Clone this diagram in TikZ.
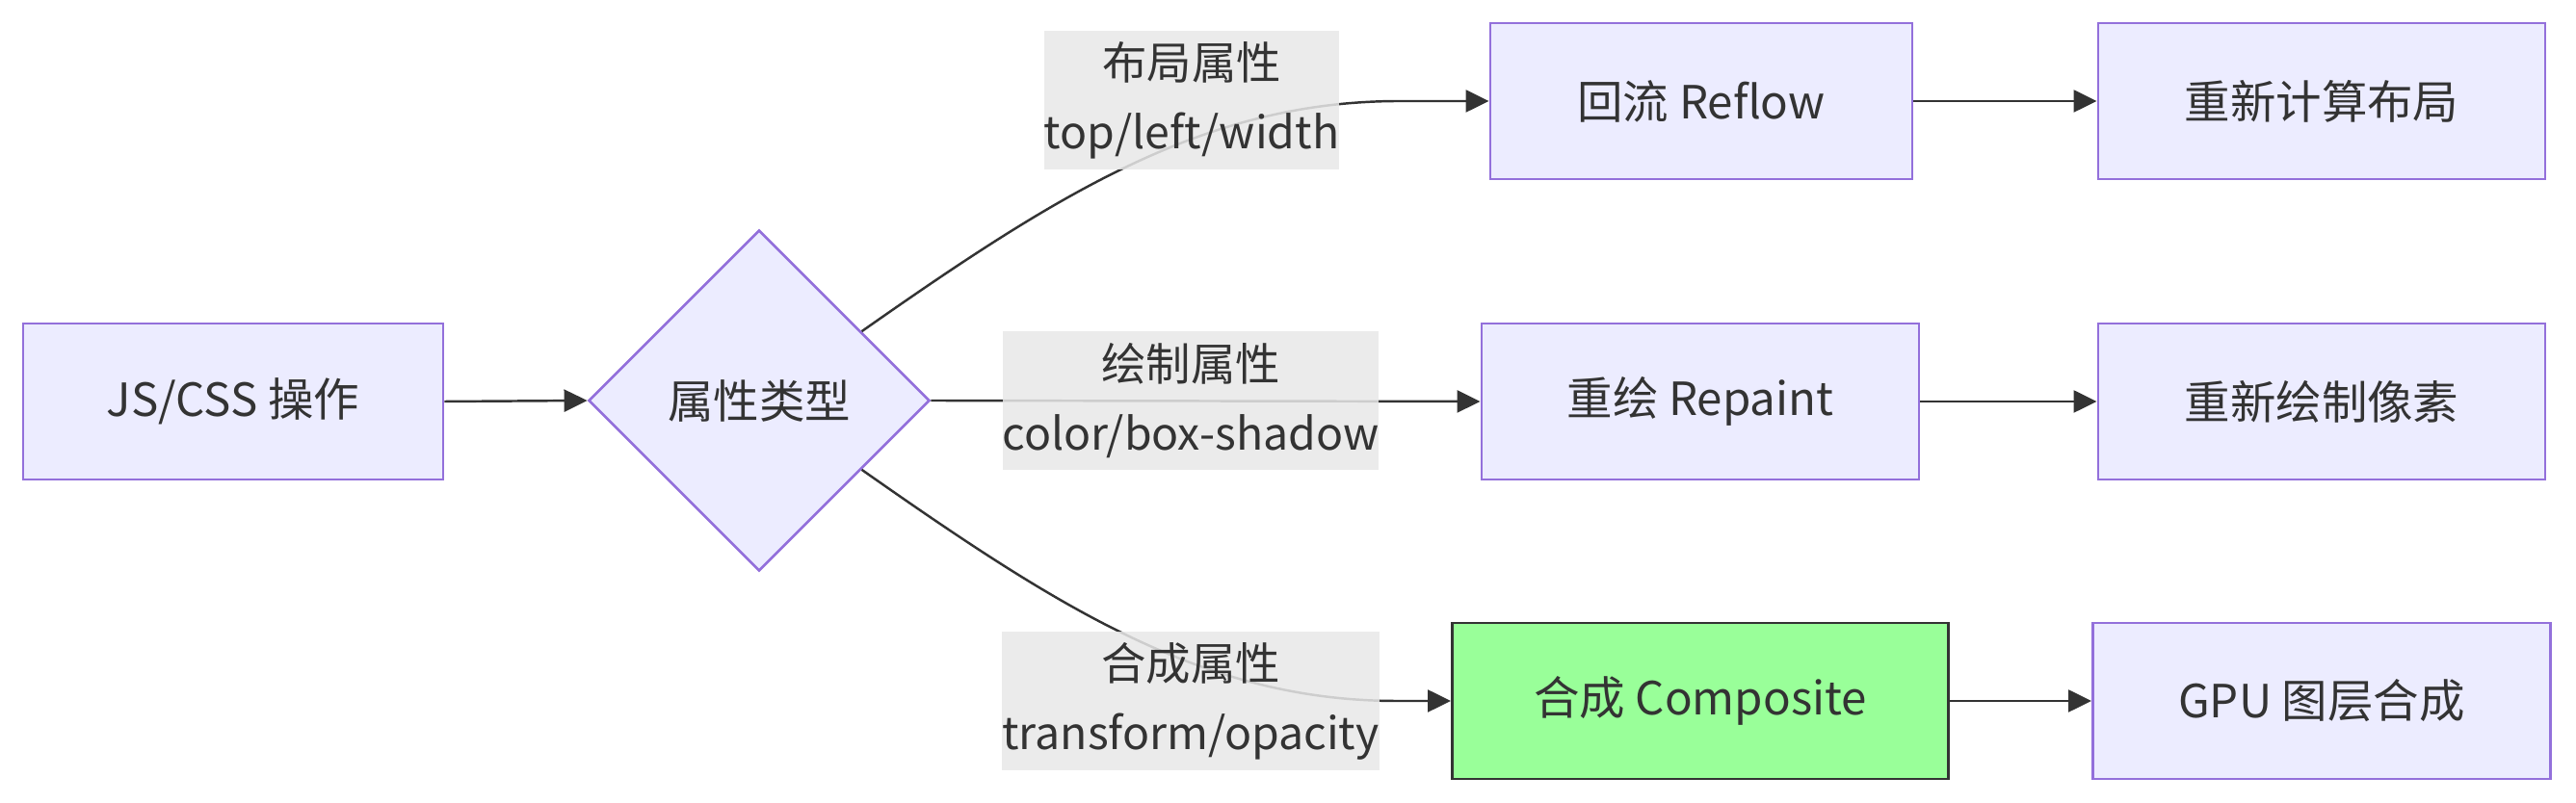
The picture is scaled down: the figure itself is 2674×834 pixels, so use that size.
\documentclass[tikz,border=0pt]{standalone}
\usepackage{fontspec}
\setmainfont{Noto Sans CJK SC}
\usepackage{tikz}
\usetikzlibrary{shapes.geometric,arrows.meta}
\definecolor{boxfill}{HTML}{ECECFF}
\definecolor{boxline}{HTML}{9370DB}
\definecolor{edgecol}{HTML}{333333}
\definecolor{labfill}{HTML}{E8E8E8}
\definecolor{compfill}{HTML}{99FF99}
\tikzset{>={Triangle[length=0.24cm,width=0.23cm]}}
\tikzset{
	proc/.style={draw=boxline,fill=boxfill,line width=0.75pt,minimum height=1.62cm,inner sep=0pt,text=edgecol,font=\fontsize{13.5}{16}\selectfont},
	decide/.style={diamond,aspect=1,draw=boxline,fill=boxfill,line width=0.75pt,minimum width=3.54cm,minimum height=3.54cm,inner sep=0pt,text=edgecol,font=\fontsize{13.5}{16}\selectfont},
	lab/.style={fill=labfill,fill opacity=0.85,text opacity=1,text=edgecol,align=center,minimum height=1.44cm,inner xsep=0pt,inner ysep=0pt,font=\fontsize{13.2}{20.5}\selectfont},
	flow/.style={->,draw=edgecol,line width=0.7pt}
}

\begin{document}
\begin{tikzpicture}[x=0.01cm,y=-0.01cm]
		\useasboundingbox (0,0) rectangle (2674,834);
		% nodes
		\node[proc,minimum width=4.36cm] (js) at (242,417) {JS/CSS 操作};
		\node[decide] (type) at (788,416) {属性类型};
		\node[proc,minimum width=4.38cm] (reflow) at (1766,105) {回流 Reflow};
		\node[proc,minimum width=4.64cm] (relayout) at (2410,105) {重新计算布局};
		\node[proc,minimum width=4.54cm] (repaint) at (1765,417) {重绘 Repaint};
		\node[proc,minimum width=4.64cm] (repixel) at (2410,417) {重新绘制像素};
		\node[proc,minimum width=5.15cm,fill=compfill,draw=edgecol] (comp) at (1765,728) {合成 Composite};
		\node[proc,minimum width=4.75cm] (gpu) at (2410,728) {GPU 图层合成};
		
		% edges
		\draw[flow] (js.east) -- (type.west);
		\draw[flow] (type.34) .. controls (1100,200) and (1250,106) .. (1450,105) -- (reflow.west);
		\draw[flow] (type.east) -- (repaint.west);
		\draw[flow] (type.-34) .. controls (1100,632) and (1250,728) .. (1450,728) -- (comp.west);
		\draw[flow] (reflow.east) -- (relayout.west);
		\draw[flow] (repaint.east) -- (repixel.west);
		\draw[flow] (comp.east) -- (gpu.west);
		
		% edge labels
		\node[lab] (layoutlab) at (1237,104) {布局属性\\top/left/width};
		\node[lab] (paintlab) at (1236,416) {绘制属性\\color/box-shadow};
		\node[lab] (complab) at (1236,728) {合成属性\\transform/opacity};
		
\end{tikzpicture}
\end{document}
